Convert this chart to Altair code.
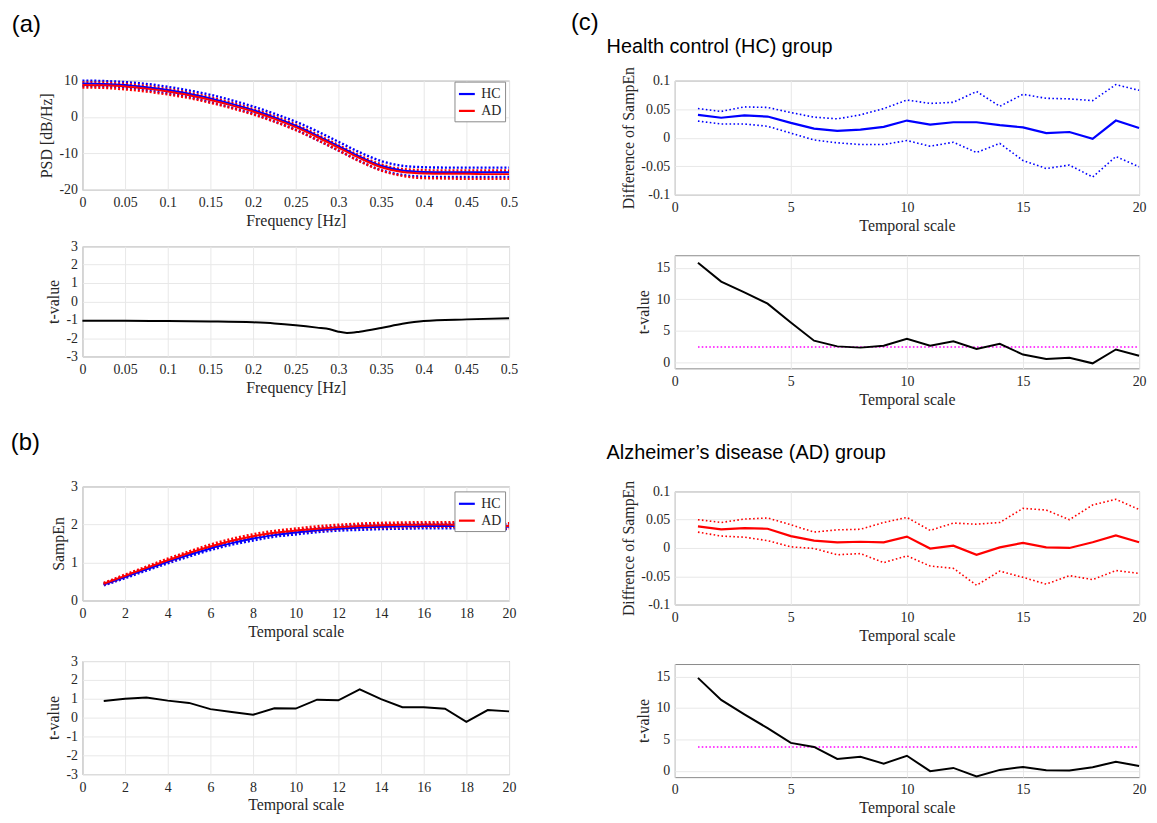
import altair as alt
import pandas as pd

BLUE = "#0000ff"
RED = "#ff0000"
MAGENTA = "#ff00ff"
SERIF = "Liberation Serif"
SANS = "Liberation Sans"

# ---------------- (a) PSD ----------------
freq = [0.0, 0.025, 0.05, 0.075, 0.1, 0.125, 0.15, 0.175, 0.2, 0.225, 0.25,
        0.275, 0.3, 0.325, 0.35, 0.375, 0.4, 0.425, 0.45, 0.475, 0.5]
psd_hc_mean = [9.2, 9.1, 8.8, 8.2, 7.4, 6.4, 5.1, 3.6, 1.9, -0.1, -2.4,
               -5.1, -8.0, -10.9, -13.4, -14.7, -15.1, -15.2, -15.2, -15.2, -15.2]
psd_ad_mean = [8.8, 8.7, 8.4, 7.8, 7.0, 6.0, 4.7, 3.2, 1.5, -0.5, -2.8,
               -5.5, -8.4, -11.3, -13.8, -15.1, -15.5, -15.6, -15.6, -15.7, -15.7]
psd_hc_up = [10.0, 9.9, 9.6, 9.1, 8.3, 7.3, 6.1, 4.6, 2.9, 0.9, -1.3,
             -3.9, -6.8, -9.7, -12.1, -13.4, -13.8, -13.9, -13.9, -13.9, -13.9]
psd_hc_lo = [8.5, 8.4, 8.1, 7.4, 6.5, 5.5, 4.1, 2.6, 0.9, -1.2, -3.5,
             -6.3, -9.2, -12.1, -14.6, -15.9, -16.4, -16.5, -16.5, -16.5, -16.5]
psd_ad_up = [9.5, 9.4, 9.1, 8.5, 7.7, 6.7, 5.4, 3.9, 2.2, 0.2, -2.1,
             -4.8, -7.7, -10.6, -13.0, -14.3, -14.6, -14.7, -14.7, -14.7, -14.7]
psd_ad_lo = [8.1, 8.0, 7.6, 7.0, 6.2, 5.2, 3.9, 2.4, 0.7, -1.3, -3.6,
             -6.3, -9.2, -12.2, -14.7, -16.2, -16.8, -16.9, -17.0, -17.0, -17.0]

freq_t = [0.0, 0.05, 0.1, 0.15, 0.2, 0.225, 0.25, 0.275, 0.29, 0.3, 0.31,
          0.325, 0.35, 0.375, 0.4, 0.45, 0.5]
t_psd = [-1.06, -1.06, -1.07, -1.09, -1.14, -1.2, -1.3, -1.43, -1.52, -1.65, -1.72,
         -1.65, -1.45, -1.22, -1.07, -0.98, -0.92]

# ---------------- (b) SampEn ----------------
tscale = list(range(1, 21))
se_hc_mean = [0.42, 0.62, 0.82, 1.02, 1.20, 1.37, 1.51, 1.63, 1.72, 1.79,
              1.85, 1.89, 1.92, 1.94, 1.95, 1.96, 1.96, 1.96, 1.95, 1.94]
se_hc_up = [0.44, 0.65, 0.85, 1.05, 1.24, 1.41, 1.55, 1.67, 1.77, 1.84,
            1.90, 1.94, 1.98, 2.00, 2.01, 2.02, 2.02, 2.02, 2.01, 2.00]
se_hc_lo = [0.40, 0.59, 0.79, 0.98, 1.16, 1.33, 1.47, 1.58, 1.68, 1.74,
            1.80, 1.84, 1.86, 1.88, 1.89, 1.90, 1.90, 1.90, 1.89, 1.88]
se_ad_mean = [0.44, 0.65, 0.86, 1.06, 1.25, 1.42, 1.57, 1.69, 1.78, 1.84,
              1.89, 1.93, 1.96, 1.98, 1.99, 2.00, 2.00, 1.99, 1.98, 1.96]
se_ad_up = [0.46, 0.68, 0.89, 1.10, 1.29, 1.47, 1.62, 1.74, 1.83, 1.89,
            1.95, 1.99, 2.02, 2.04, 2.05, 2.06, 2.06, 2.05, 2.04, 2.03]
se_ad_lo = [0.42, 0.62, 0.83, 1.02, 1.21, 1.38, 1.52, 1.64, 1.73, 1.79,
            1.84, 1.88, 1.91, 1.92, 1.93, 1.94, 1.94, 1.93, 1.92, 1.90]
t_se = [0.88, 1.0, 1.07, 0.9, 0.78, 0.45, 0.3, 0.15, 0.5, 0.48,
        0.95, 0.92, 1.5, 0.98, 0.55, 0.55, 0.47, -0.22, 0.4, 0.33]

# ---------------- (c) differences ----------------
d_hc_mean = [0.040, 0.035, 0.039, 0.037, 0.026, 0.016, 0.012, 0.014, 0.019, 0.030,
             0.023, 0.027, 0.027, 0.022, 0.018, 0.008, 0.010, -0.002, 0.030, 0.017]
d_hc_up = [0.051, 0.046, 0.054, 0.053, 0.044, 0.036, 0.033, 0.040, 0.051, 0.066,
           0.060, 0.062, 0.081, 0.055, 0.076, 0.069, 0.068, 0.065, 0.093, 0.083]
d_hc_lo = [0.029, 0.024, 0.024, 0.020, 0.008, -0.004, -0.009, -0.012, -0.012, -0.005,
           -0.015, -0.008, -0.026, -0.010, -0.040, -0.054, -0.048, -0.069, -0.033, -0.051]
t_hc = [15.8, 12.8, 11.1, 9.3, 6.3, 3.4, 2.5, 2.3, 2.6, 3.7,
        2.6, 3.3, 2.1, 2.9, 1.2, 0.5, 0.7, -0.2, 2.0, 1.0]

d_ad_mean = [0.038, 0.033, 0.035, 0.034, 0.021, 0.013, 0.010, 0.011, 0.010, 0.020,
             -0.001, 0.004, -0.012, 0.001, 0.009, 0.001, 0.000, 0.010, 0.022, 0.010]
d_ad_up = [0.050, 0.045, 0.051, 0.053, 0.041, 0.028, 0.032, 0.033, 0.045, 0.054,
           0.031, 0.044, 0.042, 0.045, 0.070, 0.067, 0.050, 0.076, 0.086, 0.068]
d_ad_lo = [0.028, 0.021, 0.019, 0.013, 0.002, -0.001, -0.012, -0.010, -0.026, -0.014,
           -0.032, -0.036, -0.066, -0.041, -0.052, -0.064, -0.049, -0.056, -0.040, -0.045]
t_ad = [14.8, 11.3, 9.0, 6.8, 4.45, 3.8, 1.9, 2.25, 1.15, 2.4,
        -0.05, 0.47, -0.9, 0.15, 0.63, 0.1, 0.05, 0.57, 1.46, 0.78]

thr_x = [1, 20]
thr_hc = [2.4, 2.4]
thr_ad = [3.8, 3.8]

# tick values
freq_ticks = [0, 0.05, 0.1, 0.15, 0.2, 0.25, 0.3, 0.35, 0.4, 0.45, 0.5]
scale_ticks_b = [0, 2, 4, 6, 8, 10, 12, 14, 16, 18, 20]
scale_ticks_c = [0, 5, 10, 15, 20]
psd_ticks = [-20, -10, 0, 10]
t3_ticks = [-3, -2, -1, 0, 1, 2, 3]
se_ticks = [0, 1, 2, 3]
d_ticks = [-0.1, -0.05, 0, 0.05, 0.1]
tc_ticks = [0, 5, 10, 15]


def frame(xs, ys, key):
    return pd.DataFrame({"x": xs, "y": ys, "key": key})


def X(domain, values, title):
    return alt.X("x:Q", scale=alt.Scale(domain=domain, nice=False, zero=False),
                 axis=alt.Axis(values=values, title=title, labelExpr="'' + datum.value"))


def Y(domain, values, title):
    return alt.Y("y:Q", scale=alt.Scale(domain=domain, nice=False, zero=False),
                 axis=alt.Axis(values=values, title=title, labelExpr="'' + datum.value"))


def legend(ly):
    return alt.Legend(title=None, orient="none", legendX=375, legendY=ly, fillColor="white",
                      strokeColor="#8a8a8a", padding=3, labelFont=SERIF, labelFontSize=14,
                      labelColor="#262626", symbolType="stroke", symbolStrokeWidth=2.2,
                      symbolSize=256, rowPadding=0, labelOffset=5)


def mean_bounds_panel(xs, hc, ad, xdom, xt, xtitle, ydom, yt, ytitle, w, h, interp, dotw, ly):
    x = X(xdom, xt, xtitle)
    y = Y(ydom, yt, ytitle)
    hc_b = pd.concat([frame(xs, hc[1], "up"), frame(xs, hc[2], "lo")])
    ad_b = pd.concat([frame(xs, ad[1], "up"), frame(xs, ad[2], "lo")])
    means = pd.concat([frame(xs, hc[0], "HC"), frame(xs, ad[0], "AD")])
    l1 = alt.Chart(hc_b).mark_line(color=BLUE, strokeDash=[2, 2], strokeWidth=dotw,
                                   interpolate=interp).encode(x=x, y=y, detail="key:N")
    l2 = alt.Chart(ad_b).mark_line(color=RED, strokeDash=[2, 2], strokeWidth=dotw,
                                   interpolate=interp).encode(x=x, y=y, detail="key:N")
    l3 = alt.Chart(means).mark_line(strokeWidth=2, interpolate=interp).encode(
        x=x, y=y,
        color=alt.Color("key:N", scale=alt.Scale(domain=["HC", "AD"], range=[BLUE, RED]),
                        legend=legend(ly)))
    return alt.layer(l1, l2, l3).properties(width=w, height=h)


def diff_panel(xs, mean, up, lo, color, ytitle, w, h):
    x = X([0, 20], scale_ticks_c, "Temporal scale")
    y = Y([-0.1, 0.1], d_ticks, ytitle)
    b = pd.concat([frame(xs, up, "up"), frame(xs, lo, "lo")])
    l1 = alt.Chart(b).mark_line(color=color, strokeDash=[1.6, 2.4], strokeWidth=1.6).encode(
        x=x, y=y, detail="key:N")
    l2 = alt.Chart(frame(xs, mean, "m")).mark_line(color=color, strokeWidth=2.2).encode(x=x, y=y)
    return alt.layer(l1, l2).properties(width=w, height=h)


def t_panel(xs, ts, xdom, xt, xtitle, ydom, yt, w, h, thr=None, interp="linear"):
    x = X(xdom, xt, xtitle)
    y = Y(ydom, yt, "t-value")
    layers = []
    if thr is not None:
        layers.append(alt.Chart(frame(thr_x, thr, "thr")).mark_line(
            color=MAGENTA, strokeDash=[1.6, 2.2], strokeWidth=1.6).encode(x=x, y=y))
    layers.append(alt.Chart(frame(xs, ts, "t")).mark_line(
        color="black", strokeWidth=2, interpolate=interp).encode(x=x, y=y))
    return alt.layer(*layers).properties(width=w, height=h)


LW = 430
RW = 468

a1 = mean_bounds_panel(freq, (psd_hc_mean, psd_hc_up, psd_hc_lo),
                       (psd_ad_mean, psd_ad_up, psd_ad_lo),
                       [0, 0.5], freq_ticks, "Frequency [Hz]",
                       [-20, 10], psd_ticks, "PSD [dB/Hz]", LW, 110, "monotone", 2.4, 1)
a2 = t_panel(freq_t, t_psd, [0, 0.5], freq_ticks, "Frequency [Hz]",
             [-3, 3], t3_ticks, LW, 111, interp="monotone")
b1 = mean_bounds_panel(tscale, (se_hc_mean, se_hc_up, se_hc_lo),
                       (se_ad_mean, se_ad_up, se_ad_lo),
                       [0, 20], scale_ticks_b, "Temporal scale",
                       [0, 3], se_ticks, "SampEn", LW, 115, "monotone", 2.6, 5)
b2 = t_panel(tscale, t_se, [0, 20], scale_ticks_b, "Temporal scale",
             [-3, 3], t3_ticks, LW, 114)

c1 = diff_panel(tscale, d_hc_mean, d_hc_up, d_hc_lo, BLUE, "Difference of SampEn", RW, 115)
c2 = t_panel(tscale, t_hc, [0, 20], scale_ticks_c, "Temporal scale",
             [-1, 17], tc_ticks, RW, 114, thr=thr_hc)
c3 = diff_panel(tscale, d_ad_mean, d_ad_up, d_ad_lo, RED, "Diffrence of SampEn", RW, 114)
c4 = t_panel(tscale, t_ad, [0, 20], scale_ticks_c, "Temporal scale",
             [-1, 17], tc_ticks, RW, 114, thr=thr_ad)


def T(text, size, dx, offset):
    return alt.TitleParams(text, font=SANS, fontSize=size, fontWeight="normal",
                           anchor="start", color="black", dx=dx, offset=offset)


a_grp = alt.vconcat(a1, a2, spacing=9, title=T("(a)", 24, -27, 37)).resolve_scale(color="independent")
b_grp = alt.vconcat(b1, b2, spacing=13, title=T("(b)", 24, -35, 24)).resolve_scale(color="independent")
left = alt.vconcat(a_grp, b_grp, spacing=35).resolve_scale(color="independent")

hc_grp = alt.vconcat(c1, c2, spacing=20, title=T("Health control (HC) group", 20, -14, 9))
ad_grp = alt.vconcat(c3, c4, spacing=19, title=T("Alzheimer\u2019s disease (AD) group", 20, -14, 17))
right = alt.vconcat(hc_grp, ad_grp, spacing=35, title=T("(c)", 24, -36, 2))

chart = alt.hconcat(left, right, spacing=52).resolve_scale(color="independent").properties(
    padding={"left": 2, "right": 2, "top": 0, "bottom": 0}
).configure_view(
    stroke="#8a8a8a", strokeWidth=1
).configure_axis(
    labelFont=SERIF, labelFontSize=14, labelColor="#262626",
    titleFont=SERIF, titleFontSize=16, titleFontWeight="normal", titleColor="#262626",
    grid=True, gridColor="#e8e8e8", gridWidth=1, domain=False, ticks=False, tickSize=0,
    labelPadding=5, titlePadding=4, labelFlush=False, labelOverlap=False
).configure_axisX(labelPadding=6, titlePadding=3)

chart.save("out.html", embed_options={"renderer": "svg", "actions": False})
